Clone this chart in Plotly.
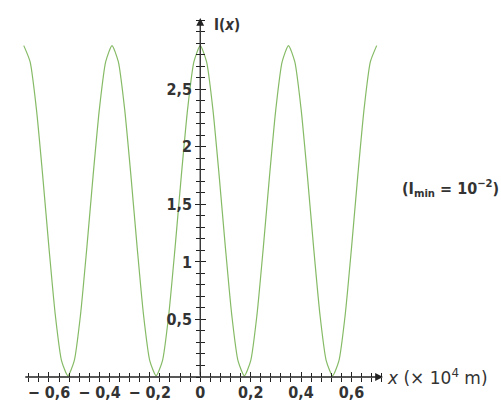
import numpy as np
import plotly.graph_objects as go

# Intensity, x in units of 10^4 m, step 0.025 from -0.7 to 0.7
x_vals = np.round(np.linspace(-0.7, 0.7, 57), 4)
period_vals = [2.88, 2.74, 2.33, 1.75, 1.12, 0.54, 0.14, 0.01, 0.14, 0.54, 1.12, 1.75, 2.33, 2.74]
i_vals = period_vals * 4 + [2.88]

x_tickvals = [-0.6, -0.4, -0.2, 0, 0.2, 0.4, 0.6]
x_ticktext = ["− 0,6", "− 0,4", "− 0,2", "0", "0,2", "0,4", "0,6"]
y_tickvals = [0.5, 1, 1.5, 2, 2.5]
y_ticktext = ["0,5", "1", "1,5", "2", "2,5"]

x_range = [-0.715, 0.725]
y_range = [0, 3.12]
y_pos = (0 - x_range[0]) / (x_range[1] - x_range[0])

FONT = "DejaVu Sans Condensed, Liberation Sans Narrow, Arial Narrow, Liberation Sans, sans-serif"
FONT_W = "DejaVu Sans, Liberation Sans, sans-serif"
AX = "#222222"
TXT = "#333333"

fig = go.Figure()
fig.add_trace(go.Scatter(x=x_vals, y=i_vals, mode="lines", line=dict(color="#86bb66", width=1.2, shape="spline", smoothing=0.6),
                         hoverinfo="skip", showlegend=False, cliponaxis=False))
fig.add_trace(go.Scatter(x=[0], y=[0], xaxis="x2", yaxis="y2", mode="markers", marker=dict(opacity=0), showlegend=False, hoverinfo="skip"))

common = dict(showgrid=False, zeroline=False, showline=False, tickcolor=AX, tickwidth=1.2)
tfont = dict(family=FONT, size=16, color=TXT, weight="bold")
fig.update_layout(
    width=501, height=402,
    margin=dict(l=20, r=501 - 383, t=18, b=25, autoexpand=False),
    paper_bgcolor="white", plot_bgcolor="white",
    separators=", ",
    xaxis=dict(range=x_range, tickmode="array", tickvals=x_tickvals, ticktext=x_ticktext,
               ticks="outside", ticklen=4, ticklabelstandoff=-3,
               minor=dict(tickmode="linear", tick0=0, dtick=0.04, ticks="outside", ticklen=4, tickcolor=AX, tickwidth=1),
               tickfont=tfont, **common),
    yaxis=dict(range=y_range, anchor="free", position=y_pos, tickmode="array", tickvals=y_tickvals, ticktext=y_ticktext,
               ticks="outside", ticklen=5,
               minor=dict(tickmode="linear", tick0=0, dtick=0.1, ticks="outside", ticklen=4, tickcolor=AX, tickwidth=1),
               tickfont=tfont, **common),
    xaxis2=dict(range=x_range, overlaying="x", matches="x", anchor="y2", tickmode="array", tickvals=x_tickvals,
                ticks="inside", ticklen=5, showticklabels=False,
                minor=dict(tickmode="linear", tick0=0, dtick=0.04, ticks="inside", ticklen=4, tickcolor=AX, tickwidth=1),
                **common),
    yaxis2=dict(range=y_range, overlaying="y", matches="y", anchor="free", position=y_pos, tickmode="array",
                tickvals=y_tickvals, ticks="inside", ticklen=5, showticklabels=False,
                minor=dict(tickmode="linear", tick0=0, dtick=0.1, ticks="inside", ticklen=4, tickcolor=AX, tickwidth=1),
                **common),
)

# axis lines with arrows
fig.add_annotation(x=0.725, y=0, ax=-0.70, ay=0, xref="x", yref="y", axref="x", ayref="y", text="",
                   showarrow=True, arrowhead=2, arrowsize=1.2, arrowwidth=1.3, arrowcolor=AX)
fig.add_annotation(x=0, y=3.12, ax=0, ay=0, xref="x", yref="y", axref="x", ayref="y", text="",
                   showarrow=True, arrowhead=2, arrowsize=1.2, arrowwidth=1.3, arrowcolor=AX)

fig.add_annotation(x=1.006, y=0, xref="paper", yref="y", xanchor="left", yanchor="middle", showarrow=False,
                   text="<i>x</i> (× 10<sup>4</sup> m)", font=dict(family=FONT_W, size=17, color=TXT))
fig.add_annotation(x=0.045, y=3.06, xref="x", yref="y", xanchor="left", yanchor="middle", showarrow=False,
                   text="I(<i>x</i>)", font=dict(family=FONT, size=15, color=TXT, weight="bold"))
fig.add_annotation(x=1.325, y=1.64, xref="paper", yref="y", xanchor="right", yanchor="middle", showarrow=False,
                   text="(I<sub>min</sub> = 10<sup>−2</sup>)", font=dict(family=FONT, size=16, color=TXT, weight="bold"))

fig.write_html("out.html", config={"displayModeBar": False},
               post_script="document.body.style.margin='0';document.body.style.overflow='hidden';")
